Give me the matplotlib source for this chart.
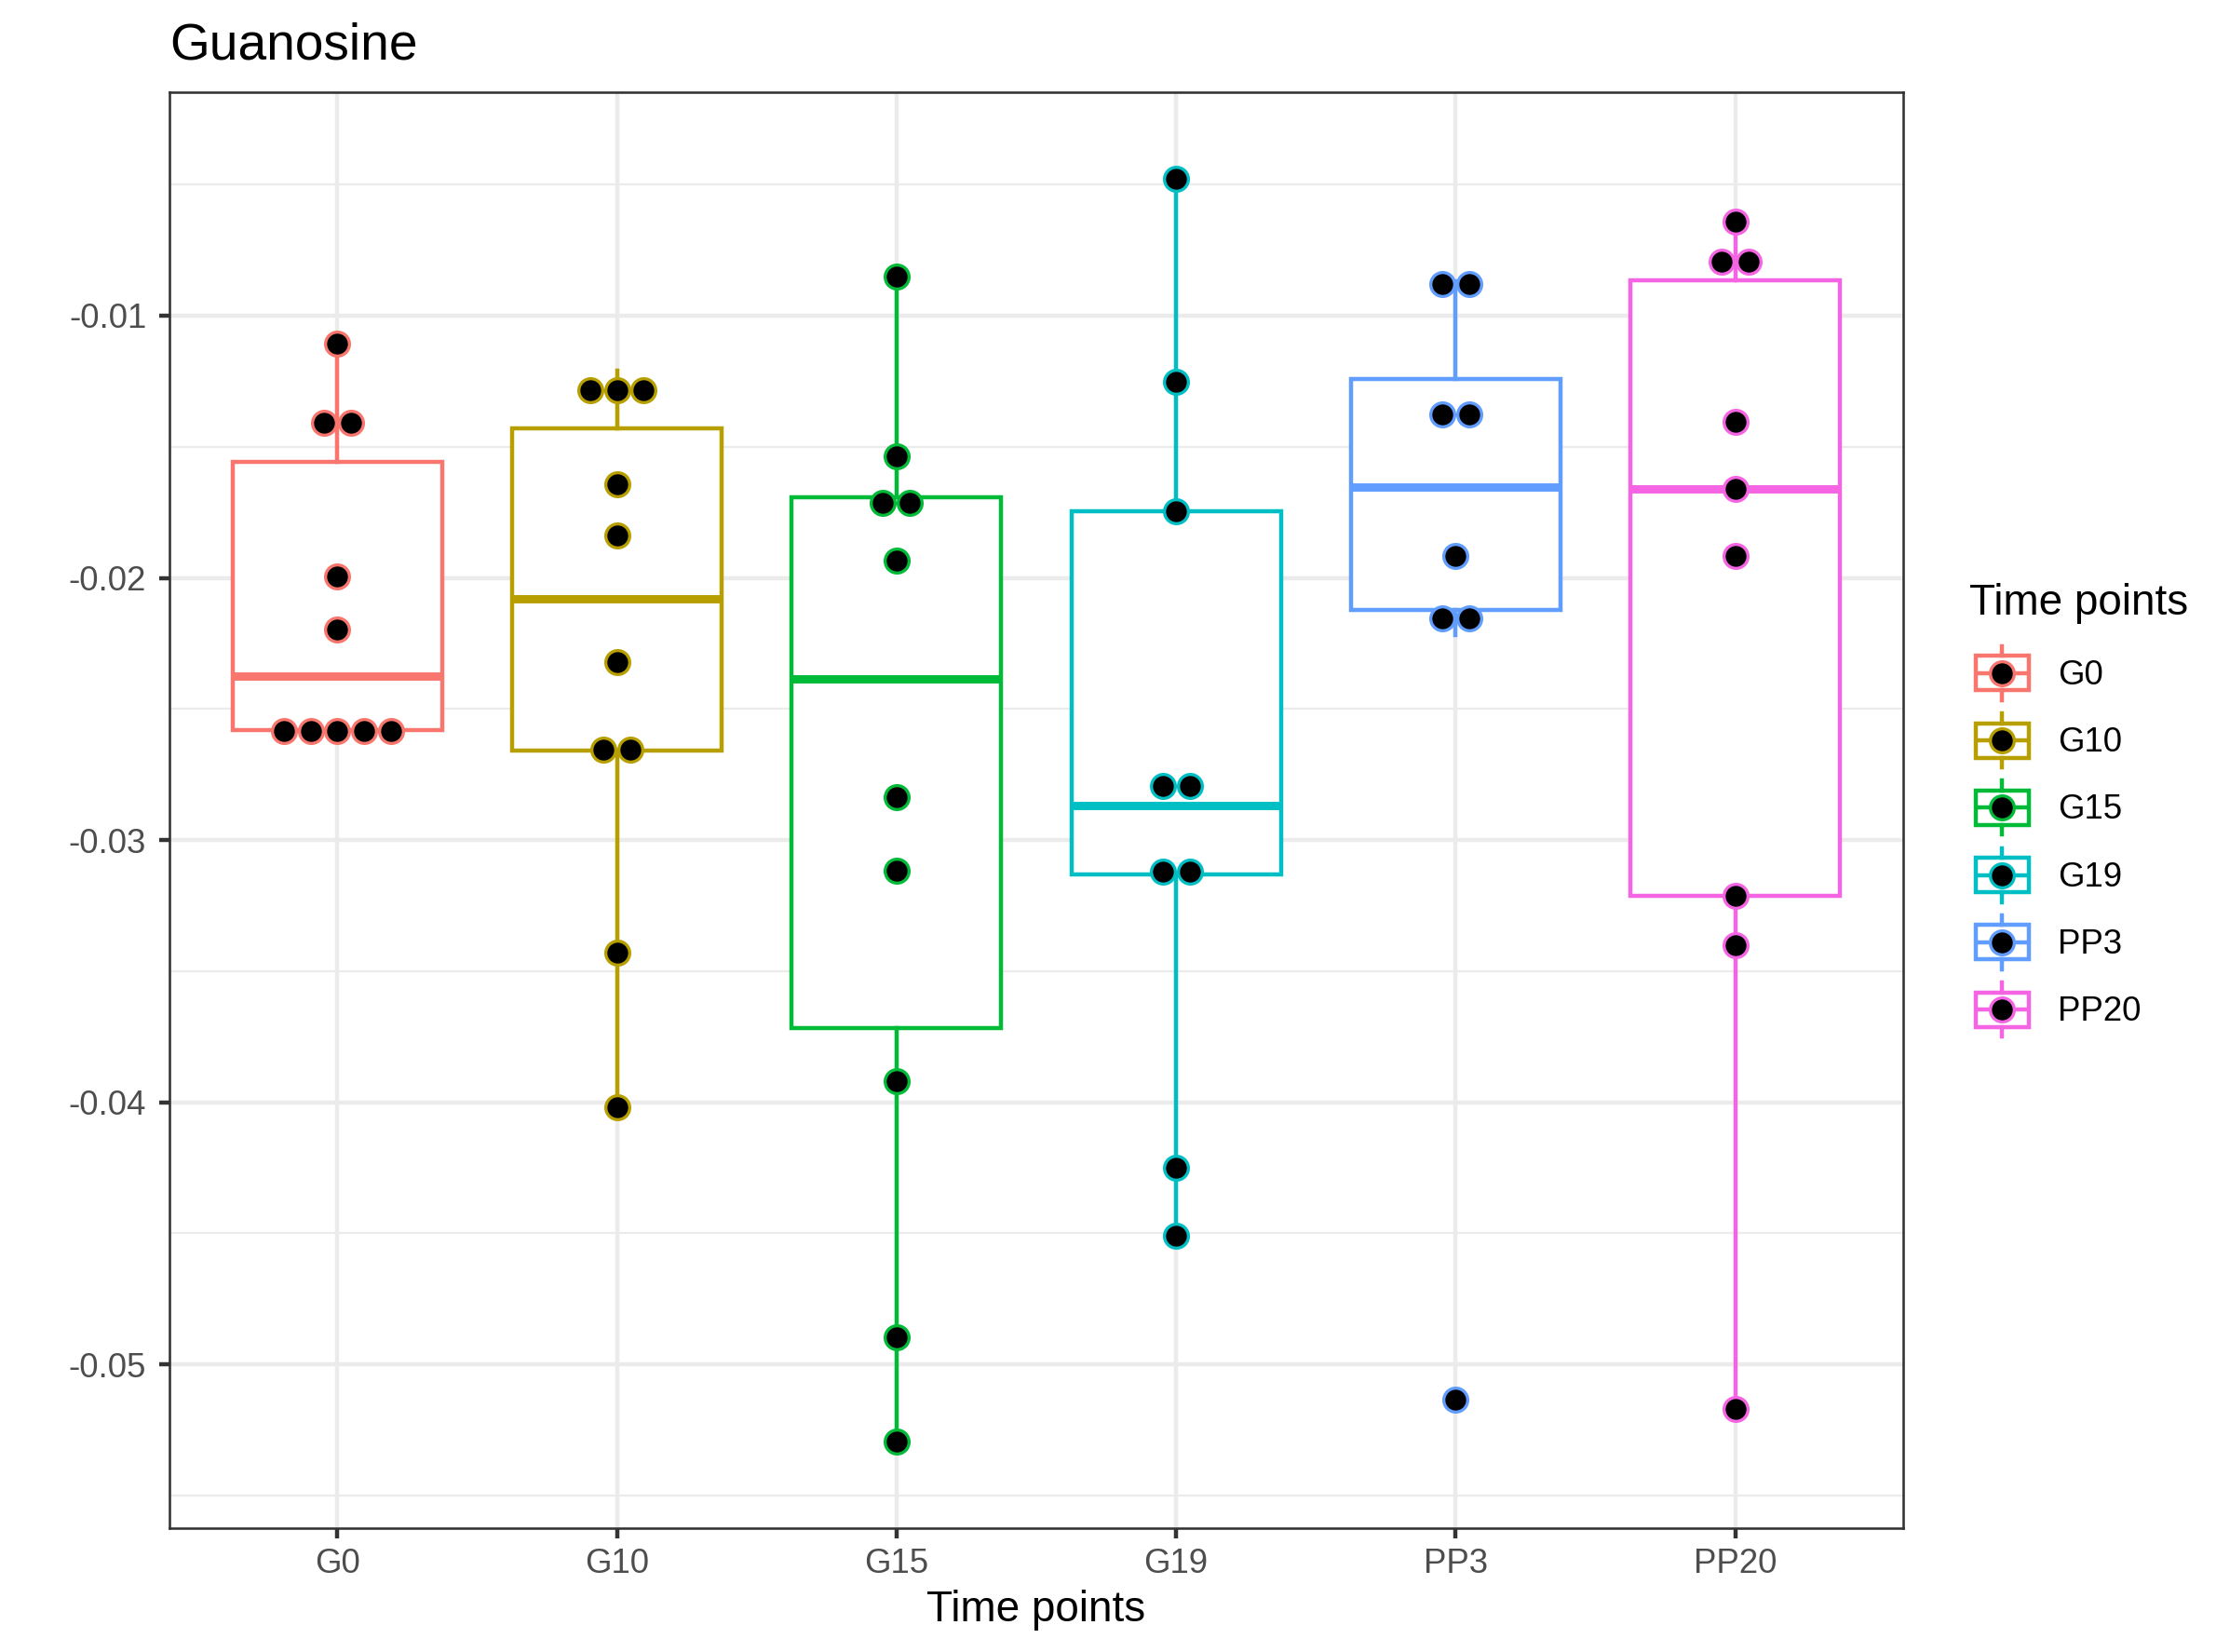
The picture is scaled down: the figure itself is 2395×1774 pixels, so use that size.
import numpy as np
import matplotlib
matplotlib.use("Agg")
import matplotlib.pyplot as plt
from matplotlib.lines import Line2D
from matplotlib.patches import Rectangle

plt.rcParams['font.family'] = ['Liberation Sans', 'DejaVu Sans']

# ---------------- data ----------------
groups = ["G0", "G10", "G15", "G19", "PP3", "PP20"]
colors = ["#F8766D", "#B79F00", "#00BA38", "#00BFC4", "#619CFF", "#F564E3"]

values_G0 = [-0.01105, -0.01405, -0.01411, -0.01996, -0.02196,
             -0.0255, -0.0258, -0.0258, -0.0260, -0.0262]
values_G10 = [-0.0121, -0.0128, -0.0136, -0.01644, -0.01838,
              -0.0232, -0.0265, -0.0266, -0.0343, -0.0402]
values_G15 = [-0.00851, -0.01538, -0.0167, -0.0176, -0.01934,
              -0.02836, -0.03118, -0.03918, -0.04896, -0.05294]
values_G19 = [-0.00477, -0.01254, -0.01745, -0.0272, -0.0287,
              -0.0311, -0.0313, -0.04249, -0.04509]
values_PP3 = [-0.0087, -0.0089, -0.0136, -0.0139, -0.01918,
              -0.02088, -0.0222, -0.05133]
values_PP20 = [-0.00643, -0.0072, -0.00866, -0.01404, -0.0166,
               -0.01918, -0.03211, -0.03402, -0.05171]

y_major = [-0.05, -0.04, -0.03, -0.02, -0.01]
y_major_labels = ["-0.05", "-0.04", "-0.03", "-0.02", "-0.01"]
y_minor = [-0.055, -0.045, -0.035, -0.025, -0.015, -0.005]

title = "Guanosine"
xlabel = "Time points"
legend_title = "Time points"

data = [values_G0, values_G10, values_G15, values_G19, values_PP3, values_PP20]

# ---------------- figure ----------------
W, H, DPI = 2395, 1774, 300
fig = plt.figure(figsize=(W / DPI, H / DPI), dpi=DPI)
fig.patch.set_facecolor("white")
L, R, T, B = 182, 2044, 99, 1640.7
ax = fig.add_axes([L / W, 1 - B / H, (R - L) / W, (B - T) / H])

lw = 1.07
grey20 = "#333333"
grey30 = "#4D4D4D"
gridc = "#EBEBEB"

allv = np.concatenate([np.asarray(d) for d in data])
binwidth = (allv.max() - allv.min()) / 30.0
lo = allv.min() - binwidth / 2
hi = allv.max() + binwidth / 2
expand = 0.05 * (hi - lo)
ax.set_ylim(lo - expand, hi + expand)
ax.set_xlim(0.4, len(groups) + 0.6)
positions = np.arange(1, len(groups) + 1)

ax.set_yticks(y_major)
ax.set_yticklabels(y_major_labels)
ax.set_yticks(y_minor, minor=True)
ax.set_xticks(positions)
ax.set_xticklabels(groups)

ax.set_axisbelow(True)
ax.grid(which="major", axis="both", color=gridc, linewidth=lw)
ax.grid(which="minor", axis="y", color=gridc, linewidth=lw / 2)

ax.tick_params(which="major", length=2.75, width=lw, color=grey20,
               labelsize=8.8, labelcolor=grey30)
ax.tick_params(axis="y", which="major", pad=3.2)
ax.tick_params(axis="x", which="major", pad=2.3)
ax.tick_params(which="minor", length=0)

for s in ax.spines.values():
    s.set_color(grey20)
    s.set_linewidth(0.62)
    s.set_zorder(10)

# boxplots
for i, (vals, c) in enumerate(zip(data, colors)):
    ax.boxplot([vals], positions=[positions[i]], widths=0.75, whis=1.5,
               showfliers=False, showcaps=False, patch_artist=True,
               manage_ticks=False,
               boxprops=dict(facecolor="white", edgecolor=c, linewidth=lw,
                             joinstyle="miter"),
               whiskerprops=dict(color=c, linewidth=lw),
               medianprops=dict(color=c, linewidth=2 * lw,
                                solid_capstyle="butt"),
               zorder=2)


# dotplot (dot-density binning, centred stacks)
def dot_bins(vals, bw):
    v = np.sort(np.asarray(vals))
    bins, cur, start = [], [v[0]], v[0]
    for x in v[1:]:
        if x >= start + bw:
            bins.append(cur)
            cur, start = [x], x
        else:
            cur.append(x)
    bins.append(cur)
    return [((min(b) + max(b)) / 2.0, len(b)) for b in bins]


stack_step = 0.0955
for i, (vals, c) in enumerate(zip(data, colors)):
    xs, ys = [], []
    for center, n in dot_bins(vals, binwidth):
        for k in range(n):
            xs.append(positions[i] + (k - (n - 1) / 2.0) * stack_step)
            ys.append(center)
    ax.scatter(xs, ys, s=38, c="black", edgecolors=c, linewidths=0.8,
               zorder=3)

# labels
fig.text(L / W, 1 - 64 / H, title, fontsize=13.2, ha="left", va="baseline",
         color="black")
ax.set_xlabel(xlabel, fontsize=11, color="black")
ax.xaxis.set_label_coords(0.5, -(1740.7 - B) / (B - T))
ax.xaxis.label.set_va("baseline")

# legend (drawn in pixel space)
lax = fig.add_axes([0, 0, 1, 1], zorder=20)
lax.set_xlim(0, W)
lax.set_ylim(H, 0)
lax.axis("off")
lax.text(2115, 660, legend_title, fontsize=11, ha="left", va="baseline",
         color="black")
cx = 2150.3
for i, (g, c) in enumerate(zip(groups, colors)):
    cy = 722.7 + 72.3 * i
    lax.add_patch(Rectangle((cx - 28.5, cy - 18.5), 57, 37, facecolor="white",
                            edgecolor=c, linewidth=lw, joinstyle="miter"))
    lax.add_line(Line2D([cx - 28.5, cx + 28.5], [cy, cy], color=c,
                        linewidth=lw, solid_capstyle="butt"))
    lax.add_line(Line2D([cx, cx], [cy - 29, cy - 18.5], color=c, linewidth=lw))
    lax.add_line(Line2D([cx, cx], [cy + 18.5, cy + 29], color=c, linewidth=lw))
    lax.scatter([cx], [cy], s=38, c="black", edgecolors=c, linewidths=0.8,
                zorder=5)
    lax.text(2210, cy + 12, g, fontsize=8.8, ha="left", va="baseline",
             color="black")

fig.savefig("out.png", dpi=DPI, facecolor="white")
